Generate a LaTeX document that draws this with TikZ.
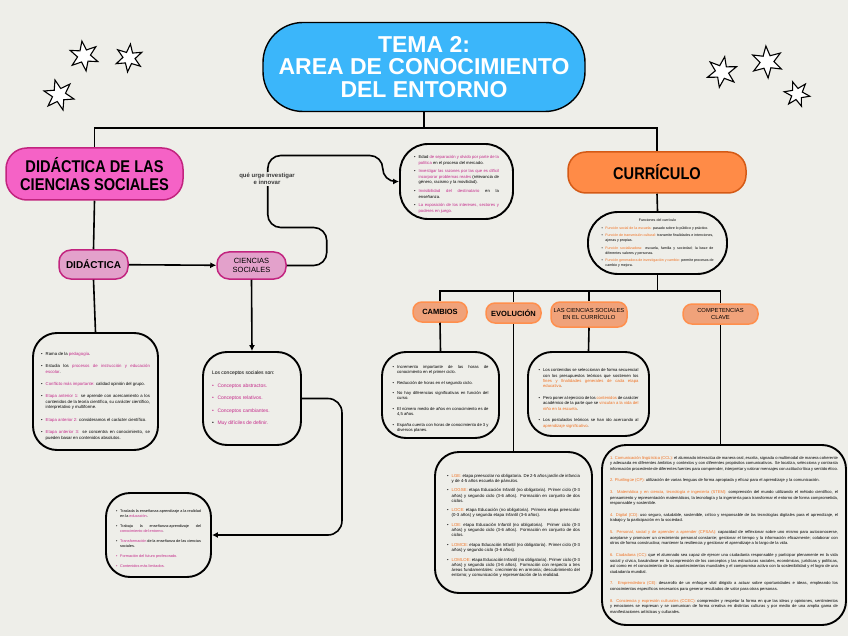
\documentclass[tikz,border=0pt]{standalone}
\usepackage{fontspec}
\setmainfont{Liberation Sans}
\newfontfamily\estrecha[FakeStretch=0.86]{Liberation Sans}
\usetikzlibrary{positioning,arrows.meta,shapes.geometric}
\definecolor{fondo}{HTML}{EEEEE9}
\definecolor{cielo}{HTML}{3BB6FA}
\definecolor{rosa}{HTML}{F562C6}
\definecolor{rosaborde}{HTML}{C2247F}
\definecolor{rosaclaro}{HTML}{E3A1CB}
\definecolor{rosatxt}{HTML}{C42A8A}
\definecolor{naranja}{HTML}{FF8B47}
\definecolor{naranjaborde}{HTML}{D45A16}
\definecolor{naranjaclaro}{HTML}{F0A27A}
\definecolor{naranjafilo}{HTML}{FF8F4D}
\definecolor{nartxt}{HTML}{F07020}
\definecolor{gris}{HTML}{3A3A3A}
\tolerance=9999
\hbadness=10000
\emergencystretch=1em
\hyphenpenalty=10000
\exhyphenpenalty=10000
\newcommand{\rosa}[1]{\textcolor{rosatxt}{#1}}
\newcommand{\nar}[1]{\textcolor{nartxt}{#1}}
\newcommand{\letra}[2]{\fontsize{#1}{#2}\selectfont}
\newcommand{\punto}[2][black]{\par\noindent\hangindent=1.1em\hangafter=1\makebox[1.1em][l]{\textcolor{#1}{\textbullet}}#2\par}

\begin{document}
\begin{tikzpicture}[x=1pt,y=-1pt,
  linea/.style={line width=1.6pt},
  flecha/.style={linea,-{Latex[length=6pt,width=6pt]}},
  tema/.style={draw,line width=1.4pt,fill=cielo,rounded corners=40pt,align=center,text=white,font=\bfseries\letra{23}{22.5}},
  grande/.style={draw=#1,line width=1.5pt,rounded corners=21pt,align=center,font=\estrecha\bfseries\letra{17}{18.5}},
  rosita/.style={draw=rosaborde,fill=rosaclaro,line width=1.5pt,rounded corners=12pt,align=center,inner sep=1pt},
  naranjita/.style={draw=naranjafilo,fill=naranjaclaro,line width=1.5pt,rounded corners=9pt,align=center,inner sep=1pt},
  nota/.style={draw,line width=1.9pt,rounded corners=24pt,align=justify,inner sep=0pt},
  estrella/.style={star,star points=6,star point ratio=2.3,draw,line width=1.1pt,fill=white,minimum size=#1,inner sep=0pt}]
  \path[use as bounding box,fill=fondo] (0,0) rectangle (848,636);
  % estrellas
  \node[estrella=30pt,rotate=8] (e1) at (84,56) {};
  \node[estrella=28pt,rotate=-6] (e2) at (129,58) {};
  \node[estrella=31pt,rotate=15] (e3) at (59,95) {};
  \node[estrella=31pt,rotate=-10] (e4) at (722,72) {};
  \node[estrella=32pt,rotate=4] (e5) at (767,62) {};
  \node[estrella=26pt,rotate=20] (e6) at (797,94) {};
  % nodos principales
  \node[tema,minimum width=322pt,minimum height=89pt] (titulo) at (424,67) {TEMA 2:\\AREA DE CONOCIMIENTO\\DEL ENTORNO};
  \node[grande=rosaborde,fill=rosa,minimum width=177pt,minimum height=52pt] (dcs) at (94.5,174) {DIDÁCTICA DE LAS\\CIENCIAS SOCIALES};
  \node[grande=naranjaborde,fill=naranja,minimum width=178pt,minimum height=41pt,rounded corners=18pt] (curr) at (657,172.5) {CURRÍCULO};
  % rama rosa
  \node[rosita,minimum width=69pt,minimum height=29pt,font=\bfseries\letra{10}{11}] (did) at (93.5,264.5) {DIDÁCTICA};
  \node[rosita,minimum width=69pt,minimum height=27pt,font=\letra{7.5}{9.5}] (cs) at (251.5,265.5) {CIENCIAS\\SOCIALES};
  \node[nota,minimum width=125pt,minimum height=117pt,text width=109pt,font=\letra{4.3}{5.7}] (didbox) at (95.5,391.5) {\setlength{\parskip}{6.5pt}%
    \punto{Rama de la \rosa{pedagogía}.}
    \punto{Estudia los \rosa{procesos de instrucción y educación escolar}.}
    \punto{\rosa{Conflicto más importante:} calidad opinión del grupo.}
    \punto{\rosa{Etapa anterior 1:} se aprende con acercamiento a los contenidos de la teoría científica, su carácter científico, interpretativo y multiforme.}
    \punto{\rosa{Etapa anterior 2:} consideramos el carácter científico.}
    \punto{\rosa{Etapa anterior 3:} se concentra en conocimiento, se pueden basar en contenidos absolutos.}};
  \node[nota,minimum width=113pt,minimum height=75pt,text width=85pt,font=\letra{4.2}{5.4},rounded corners=28pt] (probl) at (456.5,181.5) {\setlength{\parskip}{3.5pt}%
    \punto{Edad \rosa{de separación y olvido por parte de la política} en el proceso del mercado.}
    \punto{\rosa{Investigar las razones por las que es difícil incorporar problemas reales} (relevancia de género, racismo y la movilidad).}
    \punto{\rosa{Invisibilidad del destinatario} en la enseñanza.}
    \punto{\rosa{La exposición de los intereses, sectores y poderes en juego.}}};
  \node[nota,minimum width=98pt,minimum height=93pt,text width=80pt,font=\letra{5}{6.5}] (consb) at (252,398.5) {\setlength{\parskip}{6pt}%
    \noindent Los conceptos sociales son:\par
    \punto[rosatxt]{\rosa{Conceptos abstractos.}}
    \punto[rosatxt]{\rosa{Conceptos relativos.}}
    \punto[rosatxt]{\rosa{Conceptos cambiantes.}}
    \punto{\rosa{Muy difíciles de definir.}}};
  \node[nota,minimum width=105pt,minimum height=84pt,text width=85pt,font=\letra{3.8}{5}] (ensbox) at (158.5,535) {\setlength{\parskip}{5pt}%
    \punto{Traslada la enseñanza-aprendizaje a la realidad en la \rosa{educación}.}
    \punto{Trabaja la enseñanza-aprendizaje del \rosa{conocimiento del entorno}.}
    \punto{\rosa{Transformación} de la enseñanza de las ciencias sociales.}
    \punto[rosatxt]{\rosa{Formación del futuro profesorado.}}
    \punto[rosatxt]{\rosa{Contenidos más limitados.}}};
  % rama naranja
  \node[nota,minimum width=139pt,minimum height=62pt,text width=112pt,font=\letra{3.6}{4.7},rounded corners=30pt] (func) at (657.5,243) {\setlength{\parskip}{3pt}%
    {\centering Funciones del currículo\par}
    \punto{\nar{Función social de la escuela:} pasado sobre lo público y práctico.}
    \punto{\nar{Función de transmisión cultural:} transmite finalidades e intenciones, ajenas y propias.}
    \punto{\nar{Función socializadora:} escuela, familia y sociedad; la base de diferentes valores y personas.}
    \punto{\nar{Función generadora de investigación y cambio:} permite procesos de cambio y mejora.}};
  \node[naranjita,minimum width=54pt,minimum height=20pt,font=\bfseries\letra{7.5}{9}] (camb) at (440,312) {CAMBIOS};
  \node[naranjita,minimum width=55pt,minimum height=20pt,font=\bfseries\letra{7.5}{9}] (evo) at (513.5,313) {EVOLUCIÓN};
  \node[naranjita,minimum width=76pt,minimum height=25pt,font=\letra{5.8}{7}] (lcs) at (589,314.5) {LAS CIENCIAS SOCIALES\\EN EL CURRÍCULO};
  \node[naranjita,minimum width=75pt,minimum height=20pt,font=\letra{5.8}{7}] (comp) at (720.5,314) {COMPETENCIAS\\CLAVE};
  \node[nota,minimum width=117pt,minimum height=86pt,text width=96pt,font=\letra{4.2}{5.2}] (cambox) at (440.5,395) {\setlength{\parskip}{5.5pt}%
    \punto{Incremento importante de las horas de conocimiento en el primer ciclo.}
    \punto{Reducción de horas en el segundo ciclo.}
    \punto{No hay diferencias significativas en función del curso.}
    \punto{El número medio de años en conocimiento es de 4,5 años.}
    \punto{España cuenta con horas de conocimiento de 3 y diversos planes.}};
  \node[nota,minimum width=121pt,minimum height=84pt,text width=100pt,font=\letra{4.2}{5.3}] (cienbox) at (588.5,394) {\setlength{\parskip}{6.5pt}%
    \punto{Los contenidos se seleccionan de forma secuencial con los presupuestos teóricos que sostienen los \nar{fines y finalidades generales de cada etapa educativa}.}
    \punto{Pero poner al ejercicio de los \nar{contenidos} de carácter académico de la parte que se \nar{vinculan a la vida del niño en la escuela}.}
    \punto{Los postulados teóricos se han ido acercando al \nar{aprendizaje significativo}.}};
  \node[nota,minimum width=157pt,minimum height=141pt,text width=133pt,font=\letra{4.3}{5.1}] (evobox) at (513.5,522.5) {\setlength{\parskip}{4.6pt}%
    \punto{\nar{LGE:} etapa preescolar no obligatoria. De 2-5 años jardín de infancia y de 4-5 años escuela de párvulos.}
    \punto{\nar{LOGSE:} etapa Educación Infantil (no obligatoria). Primer ciclo (0-3 años) y segundo ciclo (3-6 años). Formación en conjunto de dos ciclos.}
    \punto{\nar{LOCE:} etapa Educación (no obligatoria). Primera etapa preescolar (0-3 años) y segunda etapa Infantil (3-6 años).}
    \punto{\nar{LOE:} etapa Educación Infantil (no obligatoria). Primer ciclo (0-3 años) y segundo ciclo (3-6 años). Formación en conjunto de dos ciclos.}
    \punto{\nar{LOMCE:} etapa Educación Infantil (no obligatoria). Primer ciclo (0-3 años) y segundo ciclo (3-6 años).}
    \punto{\nar{LOMLOE:} etapa Educación Infantil (no obligatoria). Primer ciclo (0-3 años) y segundo ciclo (3-6 años). Formación con respecto a tres áreas fundamentales: crecimiento en armonía; descubrimiento del entorno; y comunicación y representación de la realidad.}};
  \node[nota,minimum width=244pt,minimum height=180pt,text width=228pt,font=\letra{4.1}{5.5}] (compbox) at (724,535) {\setlength{\parskip}{6.3pt}%
    \noindent\nar{1. Comunicación lingüística (CCL):} el alumnado interactúa de manera oral, escrita, signada o multimodal de manera coherente y adecuada en diferentes ámbitos y contextos y con diferentes propósitos comunicativos. Se localiza, selecciona y contrasta información procedente de diferentes fuentes para comprender, interpretar y valorar mensajes con actitud crítica y sentido ético.\par
    \noindent\nar{2. Plurilingüe (CP):} utilización de varias lenguas de forma apropiada y eficaz para el aprendizaje y la comunicación.\par
    \noindent\nar{3. Matemática y en ciencia, tecnología e ingeniería (STEM):} comprensión del mundo utilizando el método científico, el pensamiento y representación matemáticos, la tecnología y la ingeniería para transformar el entorno de forma comprometida, responsable y sostenible.\par
    \noindent\nar{4. Digital (CD):} uso seguro, saludable, sostenible, crítico y responsable de las tecnologías digitales para el aprendizaje, el trabajo y la participación en la sociedad.\par
    \noindent\nar{5. Personal, social y de aprender a aprender (CPSAA):} capacidad de reflexionar sobre uno mismo para autoconocerse, aceptarse y promover un crecimiento personal constante; gestionar el tiempo y la información eficazmente; colaborar con otros de forma constructiva; mantener la resiliencia y gestionar el aprendizaje a lo largo de la vida.\par
    \noindent\nar{6. Ciudadana (CC):} que el alumnado sea capaz de ejercer una ciudadanía responsable y participar plenamente en la vida social y cívica, basándose en la comprensión de los conceptos y las estructuras sociales, económicas, jurídicas y políticas, así como en el conocimiento de los acontecimientos mundiales y el compromiso activo con la sostenibilidad y el logro de una ciudadanía mundial.\par
    \noindent\nar{7. Emprendedora (CE):} desarrollo de un enfoque vital dirigido a actuar sobre oportunidades e ideas, empleando los conocimientos específicos necesarios para generar resultados de valor para otras personas.\par
    \noindent\nar{8. Conciencia y expresión culturales (CCEC):} comprender y respetar la forma en que las ideas y opiniones, sentimientos y emociones se expresan y se comunican de forma creativa en distintas culturas y por medio de una amplia gama de manifestaciones artísticas y culturales.\par};
  % conectores
  \draw[linea] (titulo.south) -- ++(0,16) coordinate (rama);
  \draw[linea] (rama) -| (dcs.north);
  \draw[linea] (rama) -| (curr.north);
  \draw[linea] (dcs.south) -- (did.north);
  \draw[linea] (did.south) -- (didbox.north);
  \draw[flecha] (did) -- (cs);
  \draw[flecha] (cs.south) -- (consb.north);
  \draw[flecha,rounded corners=13pt] (cs.east) -- ++(40,0) -- ++(0,-38) -- ++(-59,0) -- ++(0,-72) -- ++(115,0) -- ++(0,26) -- (probl.west);
  \draw[flecha,rounded corners=14pt] (consb.east) -- ++(40,0) |- (ensbox.east);
  \draw[linea] (curr.south) -- (func.north);
  \draw[linea] (func.south) -- ++(0,16) coordinate (rama2);
  \draw[linea] (rama2) -| (camb.north);
  \draw[linea] (rama2) -| (evo.north);
  \draw[linea] (rama2) -| (lcs.north);
  \draw[linea] (rama2) -| (comp.north);
  \draw[linea] (camb.south) -- (cambox.north);
  \draw[linea] (evo.south) -- (evobox.north);
  \draw[linea] (lcs.south) -- (cienbox.north);
  \draw[linea] (comp.south) -- (comp.south |- compbox.north);
  % etiqueta encima de la linea
  \node[fill=fondo,align=center,text=gris,font=\bfseries\letra{6}{7.5},inner sep=1pt] (urge) at (267,179) {qué urge investigar\\e innovar};
\end{tikzpicture}
\end{document}
